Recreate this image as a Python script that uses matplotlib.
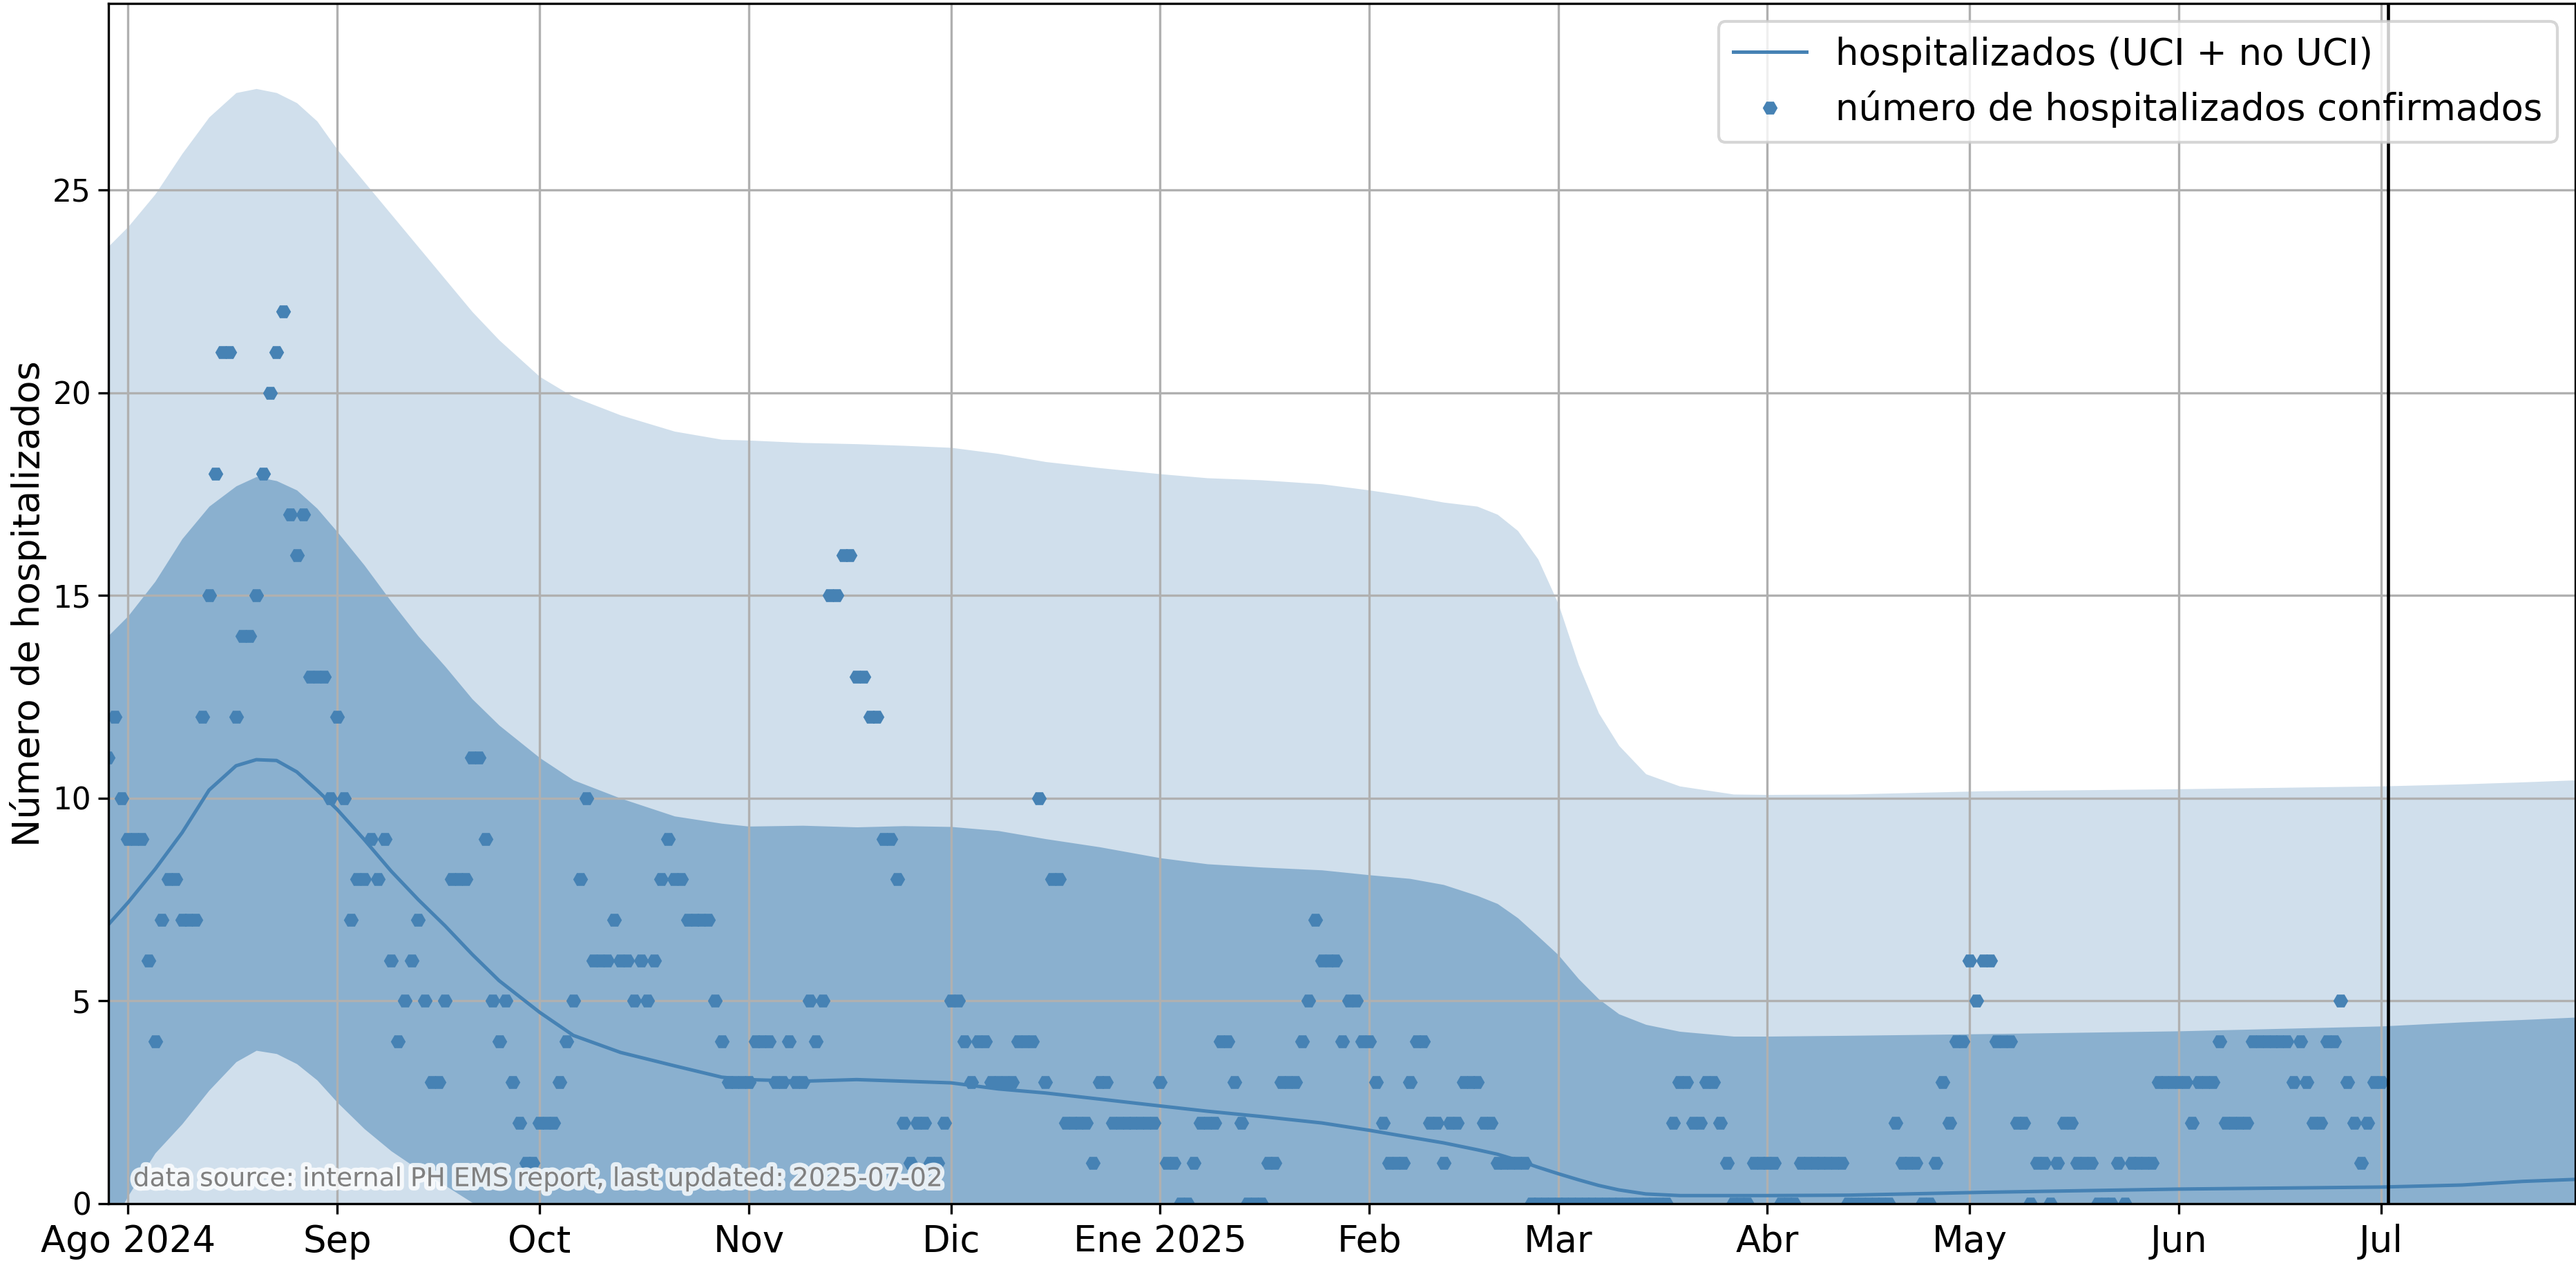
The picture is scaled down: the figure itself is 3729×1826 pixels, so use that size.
import numpy as np
import pandas as pd
import matplotlib
matplotlib.use("Agg")
import matplotlib.pyplot as plt
import matplotlib.patheffects as pe
from matplotlib.ticker import FixedLocator, FixedFormatter
import matplotlib.dates as mdates

# model band at a handful of dates
band_dates = ["2024-07-29", "2024-08-01", "2024-08-05", "2024-08-09", "2024-08-13",
              "2024-08-17", "2024-08-20", "2024-08-23", "2024-08-26", "2024-08-29",
              "2024-09-01", "2024-09-05", "2024-09-09", "2024-09-13", "2024-09-17",
              "2024-09-21", "2024-09-25", "2024-10-01", "2024-10-06", "2024-10-13",
              "2024-10-21", "2024-10-28", "2024-11-01", "2024-11-09", "2024-11-17",
              "2024-11-24", "2024-12-01", "2024-12-08", "2024-12-15", "2024-12-23",
              "2025-01-01", "2025-01-08", "2025-01-16", "2025-01-25", "2025-02-01",
              "2025-02-07", "2025-02-12", "2025-02-17", "2025-02-20", "2025-02-23",
              "2025-02-26", "2025-03-01", "2025-03-04", "2025-03-07", "2025-03-10",
              "2025-03-14", "2025-03-19", "2025-03-27", "2025-04-01", "2025-04-13",
              "2025-05-03", "2025-06-01", "2025-07-01", "2025-07-13", "2025-07-22",
              "2025-07-30"]
hi90 = [23.6, 24.1, 24.9, 25.9, 26.8, 27.4, 27.5, 27.4, 27.15, 26.7,
        26.0, 25.2, 24.4, 23.6, 22.8, 22.0, 21.3, 20.4, 19.9, 19.45,
        19.05, 18.85, 18.83, 18.77, 18.74, 18.7, 18.65, 18.5, 18.3, 18.15,
        18.0, 17.9, 17.85, 17.75, 17.6, 17.45, 17.3, 17.2, 17.0, 16.6,
        15.9, 14.8, 13.3, 12.1, 11.3, 10.6, 10.3, 10.1, 10.09, 10.1,
        10.18, 10.23, 10.3, 10.35, 10.4, 10.45]
hi50 = [14.0, 14.5, 15.35, 16.4, 17.2, 17.7, 17.93, 17.83, 17.6, 17.15,
        16.57, 15.75, 14.85, 14.0, 13.25, 12.45, 11.8, 11.0, 10.45, 10.0,
        9.56, 9.38, 9.31, 9.33, 9.29, 9.32, 9.3, 9.2, 9.0, 8.8,
        8.53, 8.38, 8.3, 8.23, 8.11, 8.02, 7.87, 7.6, 7.4, 7.05,
        6.6, 6.14, 5.55, 5.05, 4.68, 4.42, 4.25, 4.13, 4.13, 4.15,
        4.19, 4.26, 4.38, 4.48, 4.54, 4.6]
lo50 = [-0.7, 0.2, 1.25, 1.97, 2.8, 3.5, 3.78, 3.7, 3.45, 3.05,
        2.5, 1.85, 1.3, 0.85, 0.45, 0.03, -0.5, -1.0, -1.2, -1.3,
        -1.4, -1.4, -1.4, -1.4, -1.4, -1.4, -1.4, -1.4, -1.4, -1.4,
        -1.4, -1.4, -1.4, -1.4, -1.4, -1.4, -1.4, -1.4, -1.4, -1.4,
        -1.4, -1.4, -1.4, -1.4, -1.4, -1.4, -1.4, -1.4, -1.4, -1.4,
        -1.4, -1.4, -1.4, -1.4, -1.4, -1.4]
lo90 = [-3.0] * len(band_dates)
median = [6.87, 7.43, 8.25, 9.15, 10.2, 10.8, 10.95, 10.93, 10.65, 10.2,
          9.72, 8.98, 8.2, 7.5, 6.85, 6.15, 5.5, 4.72, 4.15, 3.73,
          3.4, 3.12, 3.06, 3.02, 3.06, 3.02, 2.98, 2.83, 2.73, 2.58,
          2.41, 2.28, 2.15, 1.99, 1.81, 1.64, 1.5, 1.33, 1.22, 1.07,
          0.9, 0.74, 0.59, 0.45, 0.34, 0.24, 0.2, 0.2, 0.2, 0.21,
          0.28, 0.36, 0.41, 0.46, 0.55, 0.6]

# daily confirmed hospitalized, starting 2024-07-29
obs_start = "2024-07-29"
obs = [11, 12, 10, 9, 9, 9, 6, 4, 7, 8, 8, 7, 7,
       7, 12, 15, 18, 21, 21, 12, 14, 14, 15,
       18, 20, 21, 22, 17, 16, 17, 13, 13, 13,
       10, 12, 10, 7, 8, 8, 9, 8, 9, 6,
       4, 5, 6, 7, 5, 3, 3, 5, 8, 8,
       8, 11, 11, 9, 5, 4, 5, 3, 2, 1,
       1, 2, 2, 2, 3, 4, 5, 8, 10, 6,
       6, 6, 7, 6, 6, 5, 6, 5, 6, 8,
       9, 8, 8, 7, 7, 7, 7, 5, 4, 3,
       3, 3, 3, 4, 4, 4, 3, 3, 4, 3,
       3, 5, 4, 5, 15, 15, 16, 16, 13, 13,
       12, 12, 9, 9, 8, 2, 1, 2, 2, 1,
       1, 2, 5, 5, 4, 3, 4, 4, 3, 3,
       3, 3, 4, 4, 4, 10, 3, 8, 8, 2,
       2, 2, 2, 1, 3, 3, 2, 2, 2, 2,
       2, 2, 2, 3, 1, 1, 0, 0, 1, 2,
       2, 2, 4, 4, 3, 2, 0, 0, 0, 1,
       1, 3, 3, 3, 4, 5, 7, 6, 6, 6,
       4, 5, 5, 4, 4, 3, 2, 1, 1, 1,
       3, 4, 4, 2, 2, 1, 2, 2, 3, 3,
       3, 2, 2, 1, 1, 1, 1, 1, 0, 0,
       0, 0, 0, 0, 0, 0, 0, 0, 0, 0,
       0, 0, 0, 0, 0, 0, 0, 0, 0, 2,
       3, 3, 2, 2, 3, 3, 2, 1, 0, 0,
       0, 1, 1, 1, 1, 0, 0, 0, 1, 1,
       1, 1, 1, 1, 1, 0, 0, 0, 0, 0,
       0, 0, 2, 1, 1, 1, 0, 0, 1, 3,
       2, 4, 4, 6, 5, 6, 6, 4, 4, 4,
       2, 2, 0, 1, 1, 0, 1, 2, 2, 1,
       1, 1, 0, 0, 0, 1, 0, 1, 1, 1,
       1, 3, 3, 3, 3, 3, 2, 3, 3, 3,
       4, 2, 2, 2, 2, 4, 4, 4, 4, 4,
       4, 3, 4, 3, 2, 2, 4, 4, 5, 3,
       2, 1, 2, 3, 3]

tick_dates = ["2024-08-01", "2024-09-01", "2024-10-01", "2024-11-01", "2024-12-01",
              "2025-01-01", "2025-02-01", "2025-03-01", "2025-04-01", "2025-05-01",
              "2025-06-01", "2025-07-01"]
tick_labels = ["Ago 2024", "Sep", "Oct", "Nov", "Dic", "Ene 2025", "Feb", "Mar",
               "Abr", "May", "Jun", "Jul"]
last_update = "2025-07-02"

color = "steelblue"

bd = pd.to_datetime(band_dates)
od = pd.date_range(obs_start, periods=len(obs), freq="D")

fig = plt.figure(figsize=(3729 / 300, 1826 / 300), dpi=300)
ax = fig.add_axes([157 / 3729, 83 / 1826, 3571 / 3729, 1738 / 1826])

ax.fill_between(bd, lo90, hi90, color=color, alpha=0.25, lw=0)
ax.fill_between(bd, lo50, hi50, color=color, alpha=0.5, lw=0)
ax.plot(bd, median, "-", color=color, lw=1.2, label="hospitalizados (UCI + no UCI)")
ax.plot(od, obs, "H", color=color, ms=4, label="número de hospitalizados confirmados")
ax.axvline(pd.Timestamp(last_update), color="k", lw=1.1)

ax.set_xlim(pd.Timestamp("2024-07-29 02:00"), pd.Timestamp("2025-07-29 19:00"))
ax.set_ylim(0, 29.6)
ax.xaxis.set_major_locator(FixedLocator(mdates.date2num(pd.to_datetime(tick_dates))))
ax.xaxis.set_major_formatter(FixedFormatter(tick_labels))
ax.tick_params(axis="x", labelsize=12.7)
ax.tick_params(axis="y", labelsize=10.5, pad=2.5)
ax.set_ylabel("Número de hospitalizados", fontsize=13, labelpad=2)
ax.grid()
ax.legend(loc="upper right", fontsize=12.7)

ax.text(0.01, 0.01, "data source: internal PH EMS report, last updated: " + last_update,
        transform=ax.transAxes, ha="left", va="bottom", fontsize=9.0, color="gray",
        path_effects=[pe.withStroke(linewidth=3, foreground="w", alpha=0.8)])

fig.savefig("out.png", dpi=300)
